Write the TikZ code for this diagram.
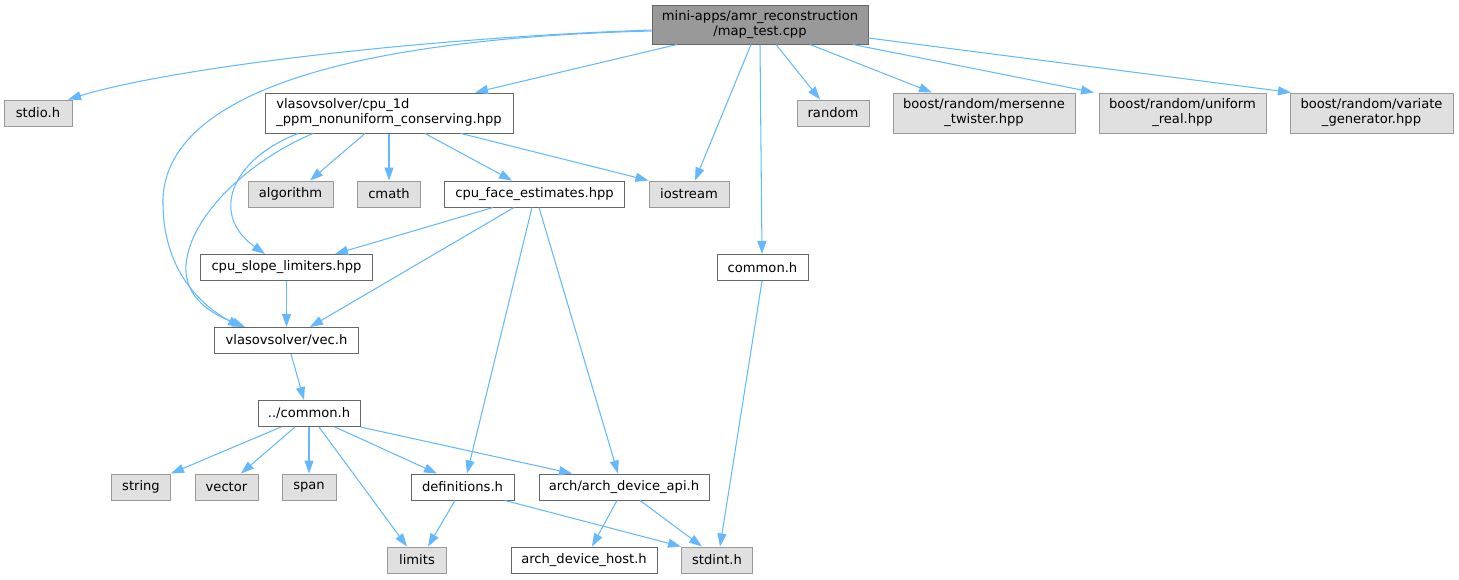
\documentclass[tikz,border=0pt]{standalone}
\usepackage{fontspec}
\setmainfont{DejaVu Sans}
\usetikzlibrary{arrows.meta}
\definecolor{edgeblue}{HTML}{63B8FF}
\definecolor{darkborder}{HTML}{666666}
\definecolor{lightborder}{HTML}{999999}
\definecolor{lightfill}{HTML}{E0E0E0}
\definecolor{mainfill}{HTML}{999999}
\tikzset{
  filebox/.style={draw=darkborder, fill=white, line width=1pt, inner sep=0pt, font=\fontsize{13.1}{15}\selectfont},
  sysbox/.style={draw=lightborder, fill=lightfill, line width=1pt, inner sep=0pt, font=\fontsize{13.1}{15}\selectfont},
  mainbox/.style={draw=darkborder, fill=mainfill, line width=1pt, inner sep=0pt, font=\fontsize{13.1}{15}\selectfont},
  edge/.style={draw=edgeblue, line width=1.05pt, -{Triangle[length=13pt,width=9pt]}},
}
\begin{document}
\begin{tikzpicture}[x=1pt,y=-1pt]
\useasboundingbox (0,0) rectangle (1459,579);
% nodes
\node[mainbox, minimum width=216pt, minimum height=39pt, align=center] (main) at (760,24.5) {mini-apps/amr\_reconstruction\\/map\_test.cpp};
\node[sysbox, minimum width=68pt, minimum height=26pt] (stdio) at (38,113) {stdio.h};
\node[filebox, minimum width=248pt, minimum height=40pt, align=left] (cpu1d) at (389,113) {vlasovsolver/cpu\_1d\\\_ppm\_nonuniform\_conserving.hpp};
\node[sysbox, minimum width=72pt, minimum height=26pt] (random) at (833,113) {random};
\node[sysbox, minimum width=182pt, minimum height=40pt, align=center] (mersenne) at (984,113) {boost/random/mersenne\\\_twister.hpp};
\node[sysbox, minimum width=167pt, minimum height=40pt, align=center] (uniform) at (1182.5,113) {boost/random/uniform\\\_real.hpp};
\node[sysbox, minimum width=163pt, minimum height=40pt, align=center] (variate) at (1371.5,113) {boost/random/variate\\\_generator.hpp};
\node[sysbox, minimum width=80pt, minimum height=26pt] (iostream) at (689,194) {iostream};
\node[sysbox, minimum width=85pt, minimum height=26pt] (algorithm) at (290.5,194) {algorithm};
\node[sysbox, minimum width=63pt, minimum height=26pt] (cmath) at (389,194) {cmath};
\node[filebox, minimum width=180pt, minimum height=26pt] (face) at (534.5,194) {cpu\_face\_estimates.hpp};
\node[filebox, minimum width=172pt, minimum height=26pt] (slope) at (286.5,267.5) {cpu\_slope\_limiters.hpp};
\node[filebox, minimum width=91pt, minimum height=26pt] (common) at (762.5,267.5) {common.h};
\node[filebox, minimum width=144pt, minimum height=26pt] (vec) at (286.5,340.5) {vlasovsolver/vec.h};
\node[filebox, minimum width=102pt, minimum height=26pt] (dotcommon) at (309,413.5) {../common.h};
\node[sysbox, minimum width=59pt, minimum height=26pt] (string) at (141,487) {string};
\node[sysbox, minimum width=63pt, minimum height=26pt] (vector) at (226.5,487) {vector};
\node[sysbox, minimum width=54pt, minimum height=26pt] (span) at (309,487) {span};
\node[filebox, minimum width=103pt, minimum height=26pt] (defs) at (462.5,487) {definitions.h};
\node[filebox, minimum width=170pt, minimum height=26pt] (api) at (624,487) {arch/arch\_device\_api.h};
\node[sysbox, minimum width=59pt, minimum height=26pt] (limits) at (417,560) {limits};
\node[filebox, minimum width=146pt, minimum height=26pt] (host) at (584,560) {arch\_device\_host.h};
\node[sysbox, minimum width=71pt, minimum height=26pt] (stdint) at (717,560) {stdint.h};
% edges from main
\draw[edge] (main.west |- 0,30) .. controls (420,38) and (170,68) .. (stdio.north -| 68,0);
\draw[edge] (main.west |- 0,31) .. controls (300,40) and (160,110) .. (163,205) .. controls (164,270) and (200,305) .. (vec.north -| 241,0);
\draw[edge] (main.south -| 677,0) -- (cpu1d.north -| 475,0);
\draw[edge] (main.south -| 751,0) -- (iostream.north -| 695,0);
\draw[edge] (main.south -| 760,0) -- (common.north -| 762,0);
\draw[edge] (main.south -| 776,0) -- (random.north -| 820,0);
\draw[edge] (main.south -| 810,0) -- (mersenne.north -| 932,0);
\draw[edge] (main.south -| 853,0) -- (uniform.north -| 1094,0);
\draw[edge] (main.east |- 0,38) -- (variate.north -| 1291,0);
% edges from cpu1d
\draw[edge] (cpu1d.south -| 365,0) -- (algorithm.north -| 310,0);
\draw[edge] (cpu1d.south) -- (cmath.north);
\draw[edge] (cpu1d.south -| 425,0) -- (face.north -| 512,0);
\draw[edge] (cpu1d.south -| 461,0) -- (iostream.north west);
\draw[edge] (cpu1d.south -| 298,0) .. controls (230,160) and (210,215) .. (slope.north -| 265,0);
\draw[edge] (cpu1d.south -| 313,0) .. controls (250,160) and (190,215) .. (186,265) .. controls (184,300) and (215,315) .. (vec.north -| 245,0);
% edges from face
\draw[edge] (face.south -| 493,0) -- (slope.north -| 335,0);
\draw[edge] (face.south -| 514,0) -- (vec.north -| 310,0);
\draw[edge] (face.south -| 532,0) -- (defs.north -| 467,0);
\draw[edge] (face.south -| 539,0) -- (api.north -| 618,0);
% others
\draw[edge] (slope.south) -- (vec.north);
\draw[edge] (common.south -| 762,0) -- (stdint.north -| 720,0);
\draw[edge] (vec.south -| 291,0) -- (dotcommon.north -| 304,0);
\draw[edge] (dotcommon.south -| 281,0) -- (string.north east);
\draw[edge] (dotcommon.south -| 295,0) -- (vector.north -| 241,0);
\draw[edge] (dotcommon.south -| 309,0) -- (span.north -| 309,0);
\draw[edge] (dotcommon.south -| 319,0) -- (limits.north -| 407,0);
\draw[edge] (dotcommon.south -| 335,0) -- (defs.north -| 437,0);
\draw[edge] (dotcommon.south east) -- (api.north -| 572,0);
\draw[edge] (defs.south -| 455,0) -- (limits.north -| 428,0);
\draw[edge] (defs.south -| 505,0) -- (stdint.north west);
\draw[edge] (api.south -| 617,0) -- (host.north -| 592,0);
\draw[edge] (api.south -| 640,0) -- (stdint.north -| 702,0);
\end{tikzpicture}
\end{document}
